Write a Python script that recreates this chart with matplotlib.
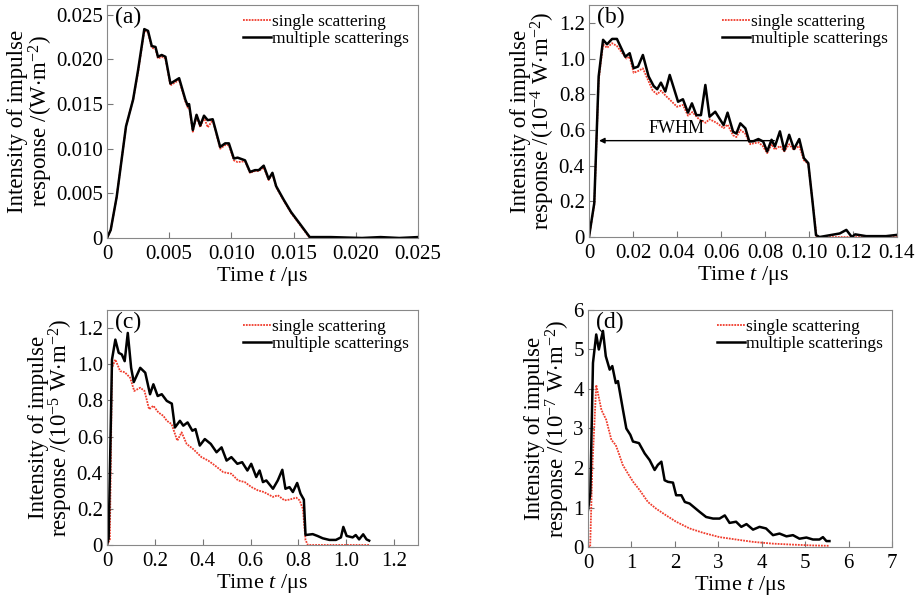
import numpy as np
import matplotlib
matplotlib.use("Agg")
import matplotlib.pyplot as plt

plt.rcParams['font.family'] = ['Liberation Serif', 'DejaVu Serif']
plt.rcParams['mathtext.fontset'] = 'custom'
plt.rcParams['mathtext.rm'] = 'Liberation Serif'
plt.rcParams['mathtext.it'] = 'Liberation Serif:italic'

# panel (a)
ta_m = [0, 0.0003, 0.00078, 0.00153, 0.0021, 0.0025, 0.003, 0.0033, 0.0036, 0.0039, 0.0041, 0.0044,
        0.0047, 0.0051, 0.0058, 0.0063, 0.0065, 0.0066, 0.0069, 0.0072, 0.0075, 0.0078, 0.0081, 0.0085,
        0.0091, 0.0095, 0.0098, 0.0102, 0.0105, 0.0111, 0.0115, 0.0119, 0.0122, 0.0126, 0.013, 0.0133,
        0.0136, 0.0142, 0.0148, 0.0155, 0.0163, 0.018, 0.0205, 0.022, 0.0235, 0.025]
ya_m = [0, 0.0009, 0.0046, 0.0125, 0.0155, 0.0188, 0.0234, 0.0232, 0.0215, 0.0214, 0.0203, 0.0205,
        0.0203, 0.0173, 0.0179, 0.0155, 0.0148, 0.015, 0.0121, 0.0138, 0.0126, 0.0137, 0.0132, 0.0133,
        0.0102, 0.0106, 0.0106, 0.0089, 0.009, 0.0087, 0.0074, 0.0076, 0.0076, 0.0081, 0.0066, 0.0073,
        0.0058, 0.0043, 0.0029, 0.0016, 0.0001, 0.0001, 0.0, 0.0001, 0.0, 0.0001]
ta_s = ta_m
ya_s = [0, 0.0009, 0.0046, 0.0125, 0.0155, 0.0186, 0.0232, 0.0230, 0.0213, 0.0212, 0.0201, 0.0203,
        0.0201, 0.0171, 0.0177, 0.0153, 0.0146, 0.0148, 0.0119, 0.0136, 0.0124, 0.0135, 0.0124, 0.0132,
        0.0100, 0.0104, 0.0104, 0.0087, 0.0085, 0.0086, 0.0073, 0.0075, 0.0075, 0.0079, 0.0065, 0.0072,
        0.0057, 0.0042, 0.0028, 0.0015, 0.0, 0.0, 0.0, 0.0, 0.0, 0.0]

# panel (b)
tb_m = [0, 0.0024, 0.0044, 0.0064, 0.0082, 0.0105, 0.0127, 0.0165, 0.0185, 0.0203, 0.0223, 0.0245,
        0.0271, 0.0294, 0.031, 0.0327, 0.0347, 0.0367, 0.0405, 0.0427, 0.045, 0.0468, 0.0488, 0.0509,
        0.0529, 0.0548, 0.0574, 0.0612, 0.063, 0.0655, 0.067, 0.0688, 0.0711, 0.0729, 0.0748, 0.077,
        0.0792, 0.081, 0.083, 0.0845, 0.0868, 0.0888, 0.091, 0.0932, 0.0956, 0.0977, 0.0997, 0.1017,
        0.1032, 0.1048, 0.114, 0.117, 0.1195, 0.121, 0.126, 0.135, 0.14]
yb_m = [0, 0.19, 0.90, 1.105, 1.08, 1.11, 1.11, 1.01, 1.03, 0.946, 0.955, 1.02,
        0.90, 0.846, 0.828, 0.865, 0.815, 0.908, 0.758, 0.772, 0.697, 0.749, 0.683, 0.683,
        0.852, 0.674, 0.702, 0.627, 0.697, 0.59, 0.58, 0.637, 0.609, 0.535, 0.537, 0.549,
        0.535, 0.479, 0.545, 0.507, 0.592, 0.485, 0.573, 0.493, 0.549, 0.442, 0.414, 0.189,
        0.011, 0.0, 0.02, 0.04, 0.0, 0.015, 0.005, 0.005, 0.012]
tb_s = [0, 0.0024, 0.0044, 0.0064, 0.0082, 0.0105, 0.0127, 0.017, 0.0185, 0.0203, 0.0223, 0.0245,
        0.029, 0.031, 0.0327, 0.035, 0.0367, 0.04, 0.0427, 0.045, 0.047, 0.05, 0.053, 0.0548,
        0.058, 0.0612, 0.063, 0.0655, 0.067, 0.0688, 0.071, 0.0733, 0.0748, 0.0771, 0.079, 0.081,
        0.083, 0.0845, 0.0868, 0.0888, 0.091, 0.093, 0.0956, 0.0977, 0.0997, 0.1017, 0.1035, 0.14]
yb_s = [0, 0.18, 0.88, 1.08, 1.06, 1.086, 1.07, 1.0, 1.01, 0.92, 0.93, 0.945,
        0.82, 0.80, 0.82, 0.79, 0.77, 0.73, 0.74, 0.68, 0.70, 0.66, 0.64, 0.66,
        0.64, 0.61, 0.63, 0.57, 0.56, 0.60, 0.58, 0.52, 0.525, 0.53, 0.51, 0.47,
        0.52, 0.49, 0.51, 0.48, 0.52, 0.49, 0.51, 0.43, 0.41, 0.19, 0.0, 0.0]

# panel (c)
tc_m = [0, 0.007, 0.021, 0.035, 0.049, 0.062, 0.074, 0.087, 0.101, 0.112, 0.139, 0.16,
        0.18, 0.194, 0.212, 0.229, 0.25, 0.271, 0.284, 0.305, 0.319, 0.337, 0.357, 0.37,
        0.388, 0.409, 0.434, 0.458, 0.479, 0.5, 0.52, 0.545, 0.565, 0.587, 0.603, 0.624,
        0.638, 0.652, 0.666, 0.694, 0.714, 0.733, 0.746, 0.763, 0.777, 0.795, 0.809, 0.823,
        0.83, 0.86, 0.88, 0.902, 0.93, 0.957, 0.978, 0.988, 1.002, 1.027, 1.04, 1.054,
        1.071, 1.085, 1.096]
yc_m = [0, 0.037, 1.026, 1.136, 1.063, 1.054, 1.017, 1.173, 0.98, 0.901, 0.98, 0.953,
        0.834, 0.889, 0.824, 0.834, 0.797, 0.782, 0.65, 0.687, 0.66, 0.678, 0.632, 0.641,
        0.55, 0.586, 0.559, 0.513, 0.54, 0.467, 0.486, 0.449, 0.458, 0.412, 0.449, 0.376,
        0.412, 0.348, 0.357, 0.311, 0.357, 0.416, 0.311, 0.32, 0.293, 0.343, 0.284, 0.251,
        0.055, 0.06, 0.05, 0.037, 0.028, 0.028, 0.042, 0.10, 0.05, 0.042, 0.055, 0.031,
        0.059, 0.031, 0.024]
tc_s = [0, 0.012, 0.021, 0.035, 0.055, 0.074, 0.097, 0.114, 0.139, 0.157, 0.176, 0.194,
        0.215, 0.236, 0.25, 0.27, 0.294, 0.312, 0.333, 0.36, 0.395, 0.423, 0.451, 0.486,
        0.52, 0.548, 0.576, 0.603, 0.631, 0.656, 0.694, 0.714, 0.742, 0.763, 0.791, 0.805,
        0.819, 0.83, 0.84, 1.1]
yc_s = [0, 0.03, 0.98, 1.026, 0.962, 0.956, 0.925, 0.852, 0.87, 0.852, 0.751, 0.77,
        0.733, 0.714, 0.687, 0.669, 0.577, 0.623, 0.559, 0.531, 0.486, 0.467, 0.44, 0.403,
        0.394, 0.357, 0.348, 0.321, 0.302, 0.293, 0.266, 0.275, 0.247, 0.251, 0.262, 0.247,
        0.2, 0.027, 0.0, 0.0]

# panel (d)
td_m = [0, 0.054, 0.115, 0.19, 0.25, 0.345, 0.41, 0.5, 0.56, 0.64, 0.69, 0.806,
        0.883, 0.975, 1.036, 1.174, 1.305, 1.42, 1.535, 1.61, 1.69, 1.765, 1.84, 1.957,
        2.03, 2.15, 2.23, 2.34, 2.57, 2.72, 2.88, 3.03, 3.15, 3.26, 3.41, 3.53,
        3.65, 3.8, 3.95, 4.1, 4.26, 4.41, 4.57, 4.72, 4.87, 5.03, 5.18, 5.33,
        5.41, 5.49, 5.56]
yd_m = [0.93, 1.36, 4.66, 5.38, 5.0, 5.47, 4.83, 4.49, 4.58, 4.15, 4.2, 3.47,
        3.0, 2.84, 2.67, 2.63, 2.37, 2.2, 1.95, 2.08, 2.16, 1.69, 1.65, 1.63,
        1.31, 1.31, 1.14, 1.1, 0.89, 0.76, 0.72, 0.72, 0.8, 0.61, 0.64, 0.51,
        0.58, 0.44, 0.51, 0.47, 0.3, 0.34, 0.27, 0.3, 0.21, 0.24, 0.19, 0.19,
        0.25, 0.15, 0.15]
td_s = [0, 0.05, 0.1, 0.19, 0.31, 0.42, 0.54, 0.64, 0.71, 0.8, 0.92, 1.04,
        1.19, 1.38, 1.57, 1.8, 2.03, 2.34, 2.65, 3.03, 3.41, 3.8, 4.26, 4.72,
        5.18, 5.56]
yd_s = [0, 0, 2.0, 4.1, 3.47, 3.22, 2.71, 2.58, 2.37, 2.08, 1.86, 1.65,
        1.44, 1.14, 0.97, 0.8, 0.64, 0.47, 0.36, 0.25, 0.19, 0.13, 0.085, 0.06,
        0.04, 0.03]

panels = [
    ("(a)", ta_s, ya_s, ta_m, ya_m, (0, 0.025), [0, 0.005, 0.010, 0.015, 0.020, 0.025],
     ["0", "0.005", "0.010", "0.015", "0.020", "0.025"], (0, 0.0261),
     [0, 0.005, 0.010, 0.015, 0.020, 0.025], ["0", "0.005", "0.010", "0.015", "0.020", "0.025"],
     "Intensity of impulse\nresponse /(W$\\cdot$m$^{-2}$)", [0.1164, 0.6007, 0.3384, 0.3909]),
    ("(b)", tb_s, yb_s, tb_m, yb_m, (0, 0.14), [0, 0.02, 0.04, 0.06, 0.08, 0.10, 0.12, 0.14],
     ["0", "0.02", "0.04", "0.06", "0.08", "0.10", "0.12", "0.14"], (0, 1.3),
     [0, 0.2, 0.4, 0.6, 0.8, 1.0, 1.2], ["0", "0.2", "0.4", "0.6", "0.8", "1.0", "1.2"],
     "Intensity of impulse\nresponse /(10$^{-4}$ W$\\cdot$m$^{-2}$)", [0.6409, 0.6023, 0.3351, 0.3893]),
    ("(c)", tc_s, yc_s, tc_m, yc_m, (0, 1.3), [0, 0.2, 0.4, 0.6, 0.8, 1.0, 1.2],
     ["0", "0.2", "0.4", "0.6", "0.8", "1.0", "1.2"], (0, 1.3),
     [0, 0.2, 0.4, 0.6, 0.8, 1.0, 1.2], ["0", "0.2", "0.4", "0.6", "0.8", "1.0", "1.2"],
     "Intensity of impulse\nresponse /(10$^{-5}$ W$\\cdot$m$^{-2}$)", [0.1164, 0.0856, 0.3384, 0.3943]),
    ("(d)", td_s, yd_s, td_m, yd_m, (0, 7), [0, 1, 2, 3, 4, 5, 6, 7],
     ["0", "1", "2", "3", "4", "5", "6", "7"], (0, 6),
     [0, 1, 2, 3, 4, 5, 6], ["0", "1", "2", "3", "4", "5", "6"],
     "Intensity of impulse\nresponse /(10$^{-7}$ W$\\cdot$m$^{-2}$)", [0.6398, 0.0822, 0.3308, 0.3977]),
]

fig = plt.figure(figsize=(9.19, 5.96), dpi=100)

for lab, ts, ys, tm, ym, xl, xt, xtl, yl, yt, ytl, ylab, pos in panels:
    ax = fig.add_axes(pos)
    ax.plot(ts, ys, color='#f03c2c', linestyle=(0, (1, 0.6)), lw=1.3, label='single scattering')
    ax.plot(tm, ym, color='black', lw=1.8, label='multiple scatterings')
    ax.set_xlim(xl)
    ax.set_ylim(yl)
    ax.set_xticks(xt)
    ax.set_xticklabels(xtl)
    ax.set_yticks(yt)
    ax.set_yticklabels(ytl)
    ax.tick_params(direction='in', length=4, labelsize=15, color='#777777')
    ax.tick_params(axis='x', pad=5)
    ax.tick_params(axis='y', pad=3)
    for s in ax.spines.values():
        s.set_color('#888888')
    ax.set_xlabel("Time $t$ /\u03bcs", fontsize=16, labelpad=1)
    ax.set_ylabel(ylab, fontsize=16.5, labelpad=1, linespacing=0.92)
    ax.text(0.025, 0.99, lab, transform=ax.transAxes, fontsize=17, va='top', ha='left')
    ax.legend(loc='upper right', frameon=False, fontsize=12.5, handlelength=1.6,
              handletextpad=0.1, labelspacing=0.05, borderaxespad=0.2, borderpad=0.3)
    if lab == "(b)":
        ax.annotate('', xy=(0.0033, 0.54), xytext=(0.0855, 0.54),
                    arrowprops=dict(arrowstyle='-|>', lw=1.0, color='black', mutation_scale=8))
        ax.text(0.04, 0.61, "FWHM", fontsize=13, ha='center', va='center')

fig.savefig("out.png", dpi=100)
